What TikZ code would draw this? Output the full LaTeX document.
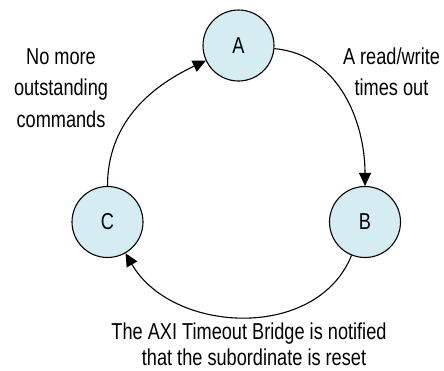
\documentclass[tikz,border=0pt]{standalone}
\usepackage{fontspec}
\setmainfont{Liberation Sans}[FakeStretch=0.79]
\usetikzlibrary{arrows.meta}
\definecolor{nodefill}{RGB}{214,236,243}
\tikzset{
  state/.style={circle, draw=black, line width=1.1pt, fill=nodefill, minimum size=71pt, inner sep=0pt, font=\fontsize{23}{28}\selectfont},
  edge/.style={line width=1.1pt, -{Triangle[length=13pt,width=12pt]}},
  lbl/.style={anchor=base, font=\fontsize{23}{28}\selectfont, inner sep=0pt}
}
\begin{document}
\begin{tikzpicture}[x=1pt,y=-1pt]
\useasboundingbox (0,0) rectangle (444,370);
\node[state] (A) at (238.5,45.5) {A};
\node[state] (B) at (365,222) {B};
\node[state] (C) at (107.5,222) {C};
\draw[edge] (A) to[out=-5,in=90] (B);
\draw[edge] (B) to[out=-112,in=-60,looseness=1.05] (C);
\draw[edge] (C) to[out=90,in=205] (A);
\node[lbl] (L1a) at (61,64) {No more};
\node[lbl] (L1b) at (61,95.5) {outstanding};
\node[lbl] (L1c) at (61,127) {commands};
\node[lbl] (L2a) at (391.5,64) {A read/write};
\node[lbl] (L2b) at (391.5,95.5) {times out};
\node[lbl] (L3a) at (249,339) {The AXI Timeout Bridge is notified};
\node[lbl] (L3b) at (254,365.5) {that the subordinate is reset};
\end{tikzpicture}
\end{document}
